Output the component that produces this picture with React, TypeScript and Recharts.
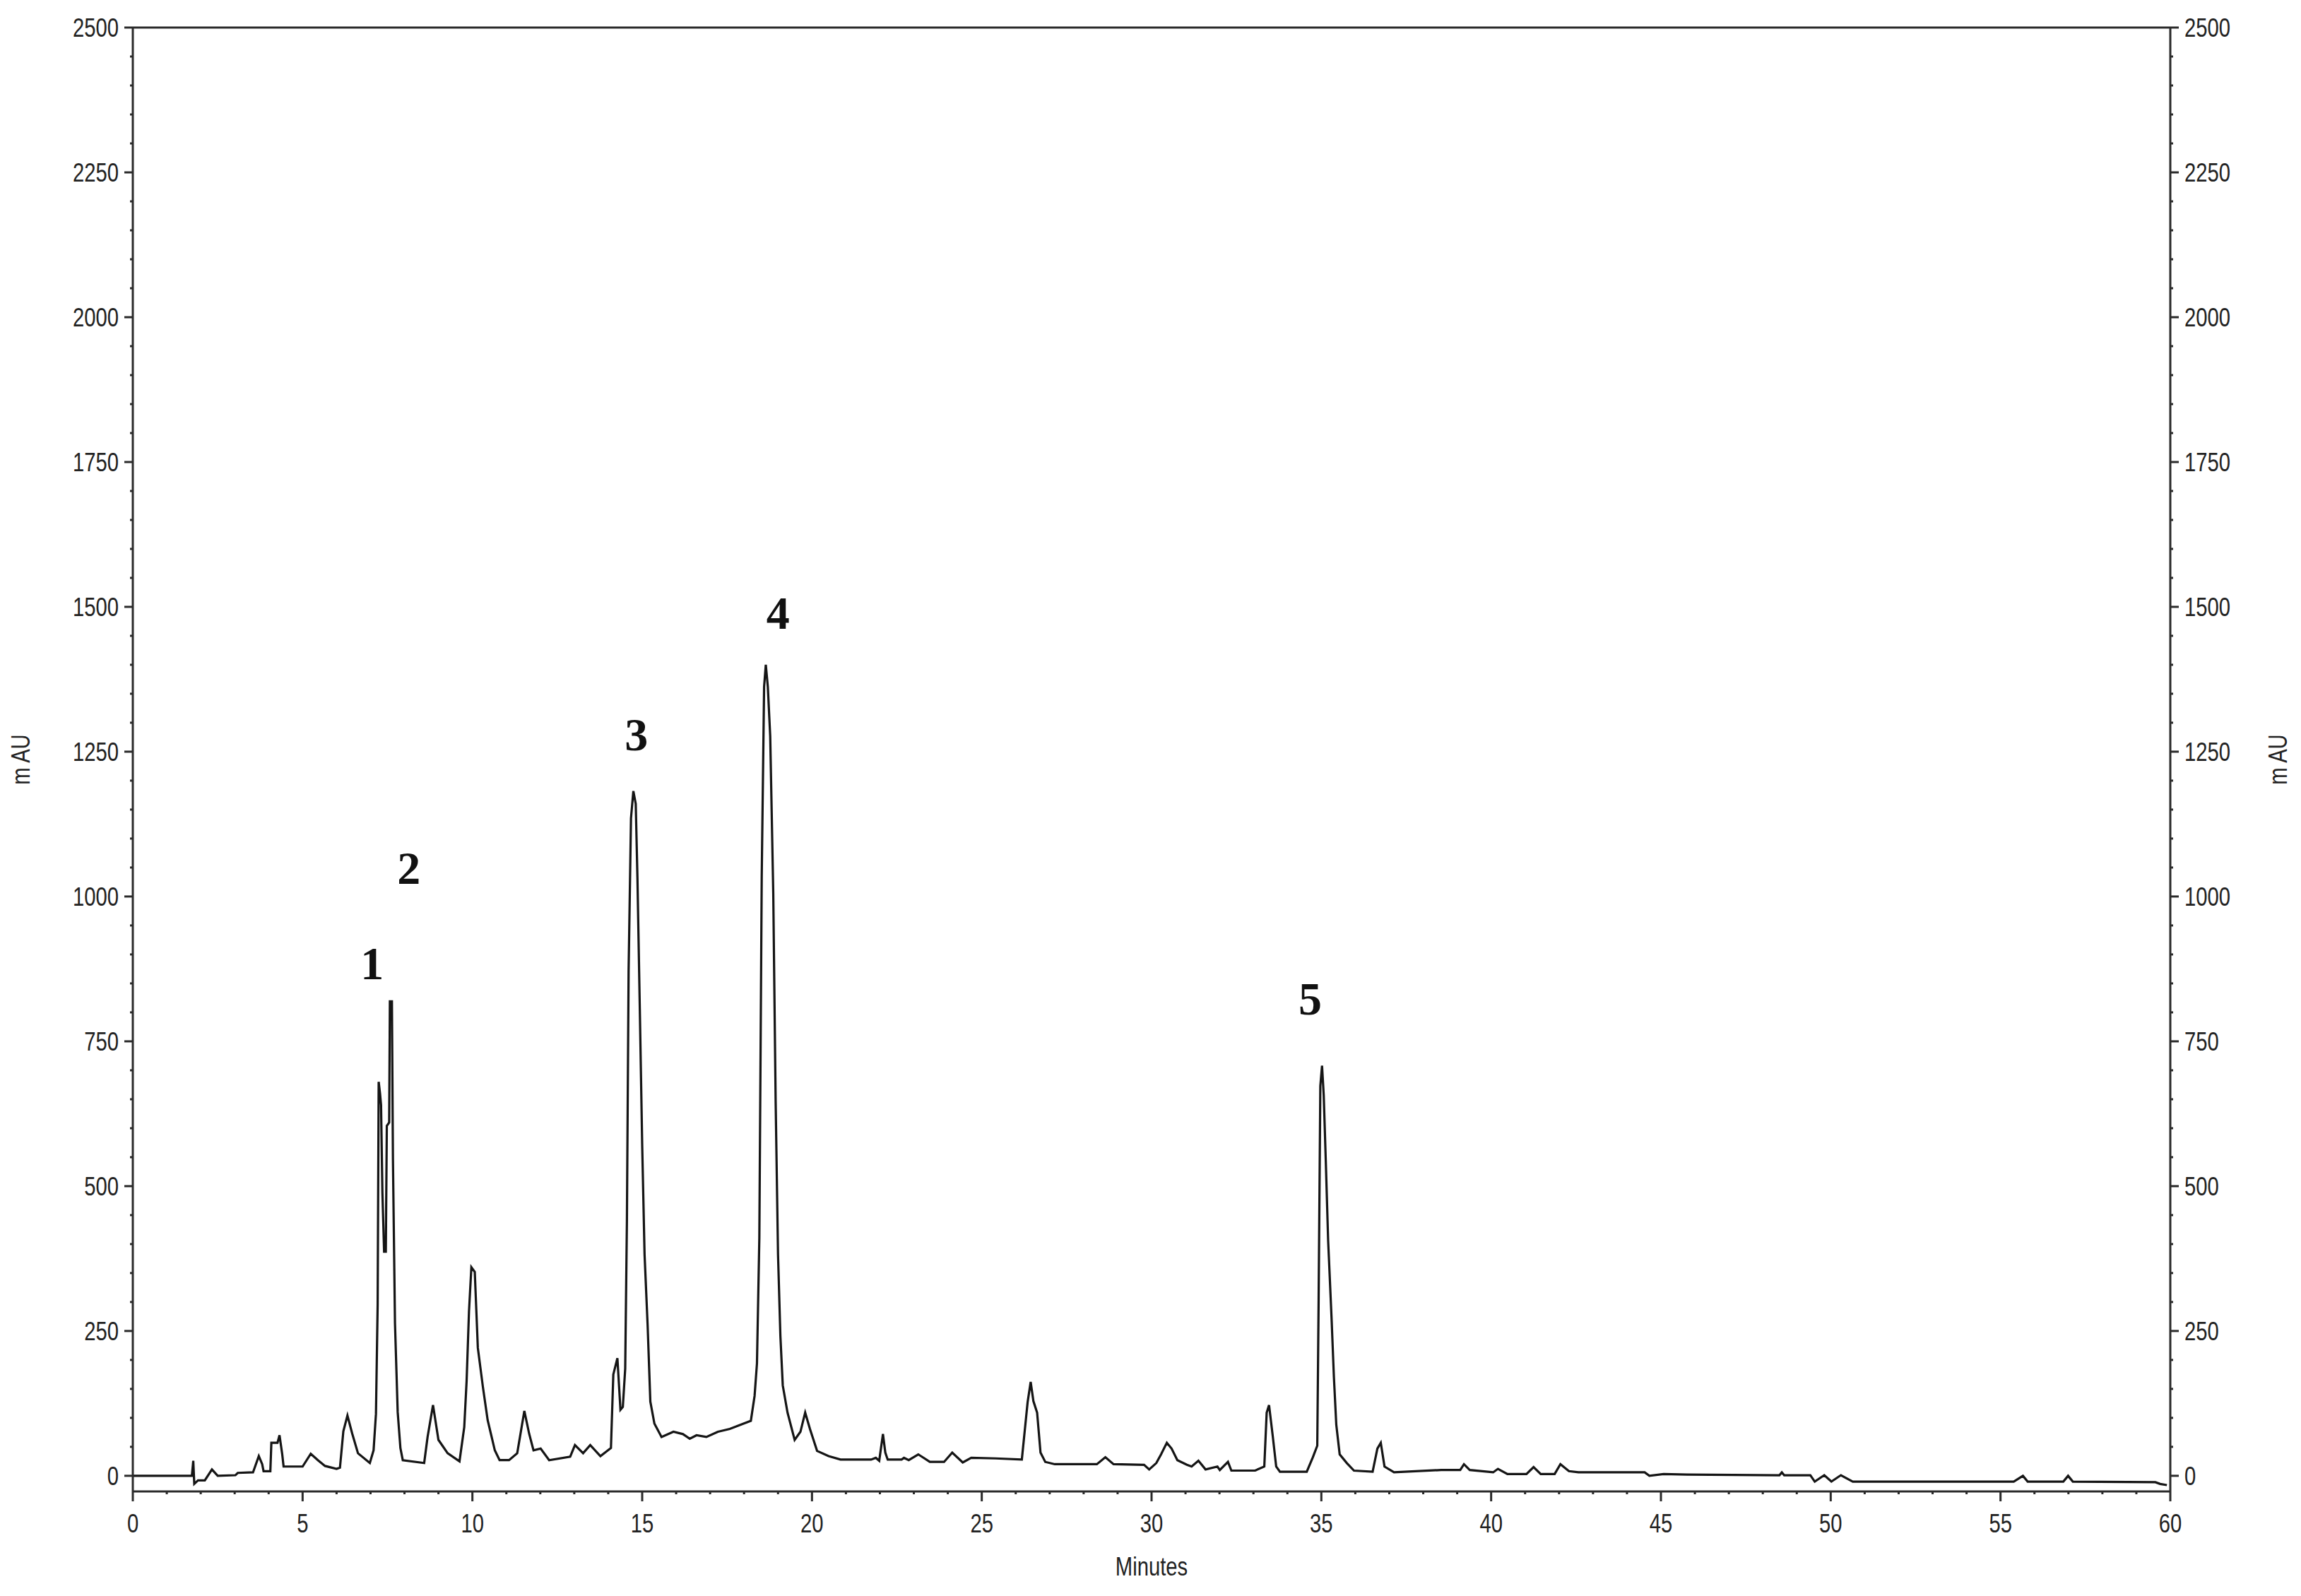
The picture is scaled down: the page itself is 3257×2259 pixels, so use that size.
import { Label, Line, LineChart, ReferenceDot, ReferenceLine, XAxis, YAxis } from "recharts";

// chromatogram trace, [minutes, mAU]
const solventFront: [number, number][] = [
  [0, 0], [1.74, 0], [1.78, 26], [1.81, -14], [1.92, -8], [2.12, -8], [2.33, 11], [2.5, 0],
  [3.02, 1], [3.09, 5], [3.54, 6], [3.71, 34], [3.81, 20], [3.85, 8], [4.05, 8], [4.08, 57],
  [4.26, 57], [4.32, 70], [4.4, 37], [4.44, 16], [5.0, 16], [5.24, 38], [5.45, 27], [5.66, 17],
  [6.0, 12], [6.1, 14], [6.2, 77],
];

const peaks1and2: [number, number][] = [
  [6.32, 104], [6.46, 73], [6.63, 39], [6.98, 22], [7.09, 44], [7.16, 107], [7.21, 295],
  [7.24, 680], [7.28, 660], [7.31, 640], [7.35, 489], [7.4, 387], [7.45, 387], [7.48, 604],
  [7.55, 610], [7.57, 819], [7.63, 819], [7.66, 547], [7.72, 264], [7.8, 110], [7.88, 48],
  [7.95, 27], [8.58, 22], [8.68, 67], [8.84, 122], [9.0, 62], [9.27, 39], [9.62, 25],
  [9.76, 84], [9.83, 164], [9.9, 284], [9.97, 360], [10.07, 352], [10.16, 221], [10.31, 153],
  [10.45, 96], [10.66, 44], [10.8, 27], [11.08, 27], [11.32, 39], [11.53, 112], [11.67, 73],
  [11.8, 44], [12.01, 47], [12.26, 27], [12.88, 33], [13.02, 53], [13.26, 39], [13.47, 53],
];

const peaks3and4: [number, number][] = [
  [13.77, 34], [14.08, 48], [14.15, 175], [14.27, 203], [14.36, 114], [14.43, 119],
  [14.5, 185], [14.55, 439], [14.6, 872], [14.67, 1135], [14.74, 1182], [14.81, 1160],
  [14.86, 1033], [14.93, 806], [15.0, 571], [15.07, 382], [15.16, 260], [15.24, 128],
  [15.36, 90], [15.57, 67], [15.92, 76], [16.2, 72], [16.4, 64], [16.6, 70], [16.89, 67],
  [17.23, 76], [17.58, 81], [17.93, 89], [18.2, 95], [18.31, 138], [18.38, 194], [18.45, 411],
  [18.52, 1033], [18.59, 1362], [18.64, 1400], [18.7, 1362], [18.77, 1277], [18.86, 1005],
  [18.93, 647], [19.0, 382], [19.07, 241], [19.14, 156], [19.28, 109], [19.49, 62],
  [19.66, 76], [19.8, 109], [19.94, 81], [20.15, 43], [20.49, 34],
];

const middle: [number, number][] = [
  [20.84, 28], [21.74, 28], [21.88, 31], [21.98, 26], [22.09, 72], [22.16, 40], [22.23, 28],
  [22.64, 28], [22.71, 31], [22.85, 27], [23.13, 37], [23.47, 24], [23.89, 24], [24.13, 40],
  [24.44, 23], [24.69, 31], [25.41, 30], [26.18, 28], [26.35, 127], [26.44, 162], [26.52, 129],
  [26.63, 109], [26.73, 40], [26.87, 24], [27.15, 20], [28.39, 20], [28.64, 32], [28.88, 20],
  [29.78, 19],
];

const peak5: [number, number][] = [
  [29.93, 11], [30.14, 22], [30.28, 37], [30.45, 57], [30.59, 47], [30.76, 27], [31.04, 19],
  [31.18, 16], [31.38, 26], [31.59, 11], [31.94, 16], [32.01, 10], [32.25, 24], [32.35, 9],
  [33.05, 9], [33.32, 16], [33.39, 109], [33.46, 122], [33.57, 68], [33.67, 16], [33.78, 7],
  [34.57, 7], [34.75, 32], [34.88, 52], [34.92, 304], [34.97, 673], [35.02, 708], [35.07, 657],
  [35.13, 545], [35.2, 406], [35.3, 273], [35.37, 170], [35.44, 88], [35.54, 37], [35.75, 22],
  [35.96, 9], [36.51, 7], [36.65, 47], [36.75, 57], [36.86, 16], [37.14, 6],
];

const tail: [number, number][] = [
  [38.53, 10], [39.09, 10], [39.2, 20], [39.37, 10], [40.06, 6], [40.2, 12], [40.48, 3],
  [41.04, 3], [41.25, 15], [41.46, 3], [41.87, 3], [42.04, 20], [42.29, 8], [42.57, 6],
  [44.52, 6], [44.66, 0], [45.08, 3], [45.77, 2], [48.49, 1], [48.56, 6], [48.63, 1],
  [49.4, 1], [49.53, -10], [49.81, 1], [50.02, -10], [50.3, 1], [50.65, -10], [55.39, -10],
  [55.66, 0], [55.8, -10], [56.85, -10], [56.99, 0], [57.13, -10], [59.56, -11], [59.7, -14],
  [59.9, -16],
];

const peakLabels = [
  { id: "1", t: 7.05, v: 885 },
  { id: "2", t: 8.13, v: 1050 },
  { id: "3", t: 14.83, v: 1280 },
  { id: "4", t: 19.0, v: 1490 },
  { id: "5", t: 34.67, v: 825 },
];

const xMajor = [0, 5, 10, 15, 20, 25, 30, 35, 40, 45, 50, 55, 60];
const yMajor = [0, 250, 500, 750, 1000, 1250, 1500, 1750, 2000, 2250, 2500];
const xTicks = Array.from({ length: 61 }, (_, i) => i);
const yTicks = Array.from({ length: 51 }, (_, i) => i * 50);

const trace = [...solventFront, ...peaks1and2, ...peaks3and4, ...middle, ...peak5, ...tail].map(
  ([t, v]) => ({ t, v })
);

const INK = "#2b2b2b";

// the instrument software uses a narrow sans, so squeeze Liberation Sans horizontally
const Narrow = ({ x, y, anchor = "middle", rotate = false, size = 37, children }: any) => (
  <text
    transform={`translate(${x},${y})${rotate ? " rotate(-90)" : ""} scale(0.79,1)`}
    dy="0.36em"
    textAnchor={anchor}
    fontFamily="'Liberation Sans', Arial, sans-serif"
    fontSize={size}
    fill="#222"
  >
    {children}
  </text>
);

const XTick = ({ x, y, payload }: any) => {
  const major = xMajor.includes(payload.value);
  return (
    <g>
      <line x1={x} x2={x} y1={y} y2={y + (major ? 14 : 4)} stroke={INK} strokeWidth={3} />
      {major && <Narrow x={x} y={y + 45}>{payload.value}</Narrow>}
    </g>
  );
};

const YTickLeft = ({ x, y, payload }: any) => {
  const major = yMajor.includes(payload.value);
  return (
    <g>
      <line x1={x} x2={x - (major ? 12 : 4)} y1={y} y2={y} stroke={INK} strokeWidth={3} />
      {major && <Narrow x={x - 20} y={y} anchor="end">{payload.value}</Narrow>}
    </g>
  );
};

const YTickRight = ({ x, y, payload }: any) => {
  const major = yMajor.includes(payload.value);
  return (
    <g>
      <line x1={x} x2={x + (major ? 12 : 4)} y1={y} y2={y} stroke={INK} strokeWidth={3} />
      {major && <Narrow x={x + 20} y={y} anchor="start">{payload.value}</Narrow>}
    </g>
  );
};

const SideTitle = (dx: number) => ({ viewBox }: any) => (
  <Narrow x={viewBox.x + dx} y={viewBox.y + viewBox.height / 2} rotate>
    m AU
  </Narrow>
);

const BottomTitle = ({ viewBox }: any) => (
  <Narrow x={viewBox.x + viewBox.width / 2} y={viewBox.y + 106}>
    Minutes
  </Narrow>
);

export default function App() {
  return (
    <div style={{ position: "absolute", top: 0, left: 0, width: 3257, height: 2259, background: "#fff" }}>
      <LineChart width={3257} height={2259} data={trace} margin={{ top: 39, right: 0, bottom: 0, left: 0 }}>
        <XAxis
          dataKey="t"
          type="number"
          domain={[0, 60]}
          ticks={xTicks}
          interval={0}
          height={148}
          tickSize={0}
          tickMargin={0}
          tickLine={false}
          tick={<XTick />}
          axisLine={{ stroke: INK, strokeWidth: 3 }}
        >
          <Label content={<BottomTitle />} />
        </XAxis>
        <YAxis
          yAxisId="left"
          type="number"
          domain={[-27, 2500]}
          allowDataOverflow
          ticks={yTicks}
          interval={0}
          width={188}
          tickSize={0}
          tickMargin={0}
          tickLine={false}
          tick={<YTickLeft />}
          axisLine={{ stroke: INK, strokeWidth: 3 }}
        >
          <Label content={SideTitle(29)} />
        </YAxis>
        <YAxis
          yAxisId="right"
          orientation="right"
          type="number"
          domain={[-27, 2500]}
          allowDataOverflow
          ticks={yTicks}
          interval={0}
          width={185}
          tickSize={0}
          tickMargin={0}
          tickLine={false}
          tick={<YTickRight />}
          axisLine={{ stroke: INK, strokeWidth: 3 }}
        >
          <Label content={SideTitle(152)} />
        </YAxis>
        <ReferenceLine yAxisId="left" y={2500} stroke={INK} strokeWidth={3} />
        <Line
          yAxisId="left"
          type="linear"
          dataKey="v"
          stroke="#151515"
          strokeWidth={3.2}
          dot={false}
          isAnimationActive={false}
        />
        {peakLabels.map((p) => (
          <ReferenceDot
            key={p.id}
            yAxisId="left"
            x={p.t}
            y={p.v}
            r={0}
            shape={(s: any) => (
              <text
                x={s.cx}
                y={s.cy}
                dy="0.35em"
                textAnchor="middle"
                fontFamily="'Liberation Serif', 'Times New Roman', serif"
                fontWeight="bold"
                fontSize={66}
                fill="#111"
              >
                {p.id}
              </text>
            )}
          />
        ))}
      </LineChart>
    </div>
  );
}
